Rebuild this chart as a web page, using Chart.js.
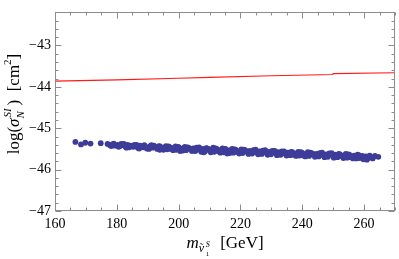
<!DOCTYPE html>
<html><head><meta charset="utf-8">
<script src="https://cdn.jsdelivr.net/npm/chart.js@4"></script>
<style>html,body{margin:0;padding:0;background:#fff}#wrap{width:399px;height:259px}</style>
</head><body><div id="wrap"><canvas id="c" width="399" height="259"></canvas></div>
<script>
const xTickValues = [160, 180, 200, 220, 240, 260];
const yTickValues = [-47, -46, -45, -44, -43];

const limitMass = [160, 180, 200, 210, 230, 249.9, 250, 270];
const limitSigma = [-43.86, -43.83, -43.79, -43.77, -43.73, -43.70, -43.68, -43.66];

const pointMass = [
166.6,168.4,169.8,171.5,174.8,177.0,177.8,178.6,179.4,180.2,181.0,181.9,182.8,183.5,184.4,185.3,186.0,186.8,187.6,188.5,
189.2,190.0,190.8,191.6,192.4,193.1,194.0,194.8,195.5,196.3,197.0,197.8,198.6,199.3,200.1,200.8,201.6,202.4,203.1,203.9,
204.7,205.4,206.2,207.0,207.7,208.5,209.2,210.0,210.8,211.5,212.3,213.1,213.8,214.6,215.4,216.1,216.9,217.7,218.4,219.2,
220.0,220.7,221.5,222.3,223.0,223.8,224.6,225.3,226.1,226.9,227.6,228.4,229.2,229.9,230.7,231.5,232.2,233.0,233.8,234.5,
235.3,236.1,236.8,237.6,238.4,239.1,239.9,240.7,241.4,242.2,243.0,243.7,244.5,245.3,246.0,246.8,247.6,248.3,249.1,249.9,
250.6,251.4,252.2,252.9,253.7,254.5,255.2,256.0,256.8,257.5,258.3,259.1,259.8,260.6,261.4,262.2,263.5,264.6,
179.0,180.6,182.3,184.0,185.7,187.2,188.9,190.4,192.0,193.6,195.1,196.7,198.2,199.8,201.3,202.8,204.3,205.8,207.3,208.9,
210.4,212.0,213.5,215.0,216.5,218.0,219.6,221.1,222.6,224.2,225.7,227.2,228.8,230.3,231.8,233.4,234.9,236.4,238.0,239.5,
241.0,242.6,244.1,245.6,247.2,248.7,250.2,251.8,253.3,254.8,256.4,257.9,259.4,260.9,261.8,
178.2,181.4,183.1,186.4,189.7,191.2,193.9,195.9,197.4,199.0,200.5,202.0,203.5,205.1,206.6,208.1,209.6,211.2,212.7,214.2,
215.7,217.3,218.8,220.3,221.9,223.4,224.9,226.5,228.0,229.6,231.1,232.6,234.1,235.7,237.2,238.7,240.3,241.8,243.3,244.9,
246.4,247.9,249.5,251.0,252.5,254.1,255.6,257.1,258.6,260.2,262.8
];
const pointSigma = [
-45.33,-45.39,-45.35,-45.37,-45.36,-45.38,-45.41,-45.39,-45.42,-45.40,-45.43,-45.41,-45.44,-45.40,-45.42,-45.45,-45.43,-45.47,-45.42,-45.46,
-45.44,-45.48,-45.43,-45.47,-45.45,-45.50,-45.44,-45.48,-45.46,-45.51,-45.45,-45.49,-45.47,-45.52,-45.46,-45.50,-45.48,-45.53,-45.47,-45.51,
-45.49,-45.55,-45.48,-45.52,-45.50,-45.56,-45.49,-45.53,-45.51,-45.57,-45.50,-45.54,-45.52,-45.58,-45.51,-45.55,-45.53,-45.59,-45.52,-45.56,
-45.54,-45.60,-45.53,-45.57,-45.55,-45.61,-45.54,-45.58,-45.56,-45.62,-45.55,-45.59,-45.57,-45.63,-45.56,-45.60,-45.58,-45.64,-45.57,-45.61,
-45.59,-45.65,-45.58,-45.62,-45.60,-45.66,-45.59,-45.63,-45.61,-45.67,-45.60,-45.64,-45.62,-45.68,-45.61,-45.65,-45.63,-45.69,-45.62,-45.66,
-45.64,-45.70,-45.63,-45.67,-45.65,-45.71,-45.64,-45.68,-45.66,-45.73,-45.65,-45.70,-45.75,-45.68,-45.72,-45.70,-45.67,-45.69,
-45.37,-45.45,-45.38,-45.46,-45.40,-45.49,-45.41,-45.50,-45.42,-45.43,-45.52,-45.44,-45.53,-45.45,-45.54,-45.46,-45.55,-45.47,-45.57,-45.48,
-45.58,-45.49,-45.59,-45.50,-45.60,-45.51,-45.61,-45.52,-45.62,-45.53,-45.63,-45.54,-45.64,-45.55,-45.65,-45.56,-45.66,-45.57,-45.67,-45.58,
-45.68,-45.59,-45.69,-45.60,-45.70,-45.61,-45.71,-45.62,-45.72,-45.63,-45.73,-45.64,-45.67,-45.76,-45.66,
-45.43,-45.38,-45.47,-45.40,-45.49,-45.41,-45.52,-45.43,-45.50,-45.44,-45.55,-45.45,-45.49,-45.51,-45.46,-45.58,-45.50,-45.47,-45.55,-45.49,
-45.61,-45.50,-45.57,-45.51,-45.56,-45.60,-45.52,-45.58,-45.53,-45.61,-45.55,-45.63,-45.56,-45.60,-45.64,-45.57,-45.66,-45.58,-45.62,-45.65,
-45.59,-45.67,-45.60,-45.68,-45.66,-45.62,-45.70,-45.68,-45.72,-45.71,-45.73
];

const SERIF = '"Liberation Serif", "DejaVu Serif", serif';

function drawPieces(ctx, pieces) {
  let x = 0;
  for (const p of pieces) {
    ctx.font = p.f;
    const w = ctx.measureText(p.t).width;
    if (p.draw) ctx.fillText(p.t, x + (p.dx || 0), p.dy || 0);
    if (p.adv !== false) x += (p.w !== undefined ? p.w : w);
  }
  return x;
}

const framePlugin = {
  id: 'frame',
  afterDraw(chart) {
    const ctx = chart.ctx, a = chart.chartArea;
    const xs = chart.scales.x, ys = chart.scales.y;
    ctx.save();
    ctx.strokeStyle = '#8c8c8c';
    ctx.lineWidth = 1;
    const L = Math.round(a.left) + 0.5, R = Math.round(a.right) - 0.5;
    const T = Math.round(a.top) + 0.5, B = Math.round(a.bottom) - 0.5;
    ctx.strokeRect(L, T, R - L, B - T);
    ctx.beginPath();
    for (let v = 160; v <= 270; v += 5) {
      const px = Math.round(xs.getPixelForValue(v)) + 0.5;
      const len = (v % 20 === 0) ? 6 : 3;
      ctx.moveTo(px, B); ctx.lineTo(px, B - len);
      ctx.moveTo(px, T); ctx.lineTo(px, T + len);
    }
    for (let i = 0; i <= 24; i++) {
      const v = -47 + i * 0.2;
      const py = Math.round(ys.getPixelForValue(v)) + 0.5;
      const len = (i % 5 === 0) ? 6 : 3;
      ctx.moveTo(L, py); ctx.lineTo(L + len, py);
      ctx.moveTo(R, py); ctx.lineTo(R - len, py);
    }
    ctx.stroke();

    ctx.fillStyle = '#000';
    ctx.textBaseline = 'alphabetic';
    // X title
    const xp = [
      {t:'m', f:'italic 17px ' + SERIF},
      {t:'\u03BD', f:'italic 12px ' + SERIF, dy:4, adv:false},
      {t:'\u02DC', f:'11px ' + SERIF, dy:3, dx:1, w:7},
      {t:'S', f:'italic 8px ' + SERIF, dy:-1, adv:false},
      {t:'1', f:'7px ' + SERIF, dy:8, w:6},
      {t:'  [GeV]', f:'17px ' + SERIF}
    ];
    const xw = drawPieces(ctx, xp);
    ctx.save();
    ctx.translate((a.left + a.right) / 2 - xw / 2, 248);
    xp.forEach(p => p.draw = true);
    drawPieces(ctx, xp);
    ctx.restore();
    // Y title
    const yp = [
      {t:'log(', f:'17px ' + SERIF},
      {t:'\u03C3', f:'italic 17px ' + SERIF},
      {t:'SI', f:'italic 11px ' + SERIF, dy:-8, adv:false, dx:1},
      {t:'N', f:'italic 11px ' + SERIF, dy:5, w:13},
      {t:')  [cm', f:'17px ' + SERIF},
      {t:'2', f:'11px ' + SERIF, dy:-8},
      {t:']', f:'17px ' + SERIF}
    ];
    const yw = drawPieces(ctx, yp);
    ctx.save();
    ctx.translate(19, 104 + yw / 2);
    ctx.rotate(-Math.PI / 2);
    yp.forEach(p => p.draw = true);
    drawPieces(ctx, yp);
    ctx.restore();
    ctx.restore();
  }
};

new Chart(document.getElementById('c'), {
  type: 'scatter',
  data: {
    datasets: [
      {
        type: 'line',
        data: limitMass.map((m, i) => ({x: m, y: limitSigma[i]})),
        borderColor: '#ff1a1a',
        borderWidth: 1.1,
        pointRadius: 0,
        tension: 0,
        fill: false
      },
      {
        data: pointMass.map((m, i) => ({x: m, y: pointSigma[i]})),
        backgroundColor: '#3d3d99',
        borderWidth: 0,
        pointRadius: 2.9
      }
    ]
  },
  options: {
    responsive: false,
    animation: false,
    devicePixelRatio: 1,
    layout: {padding: {top: 0, right: 3, left: 0, bottom: 0}},
    plugins: {legend: {display: false}, tooltip: {enabled: false}},
    scales: {
      x: {
        type: 'linear', min: 160, max: 270,
        afterBuildTicks: s => { s.ticks = xTickValues.map(v => ({value: v})); },
        afterFit: s => { s.height = 48; },
        grid: {display: false, drawTicks: false},
        border: {display: false},
        ticks: {font: {family: SERIF, size: 14}, color: '#000', padding: 5, maxRotation: 0, callback: v => String(v)}
      },
      y: {
        type: 'linear', min: -47, max: -42.2,
        afterBuildTicks: s => { s.ticks = yTickValues.map(v => ({value: v})); },
        afterFit: s => { s.width = 55; },
        grid: {display: false, drawTicks: false},
        border: {display: false},
        ticks: {font: {family: SERIF, size: 14}, color: '#000', padding: 4, callback: v => '\u2212' + String(Math.abs(v))}
      }
    }
  },
  plugins: [framePlugin]
});
</script>
</body></html>
